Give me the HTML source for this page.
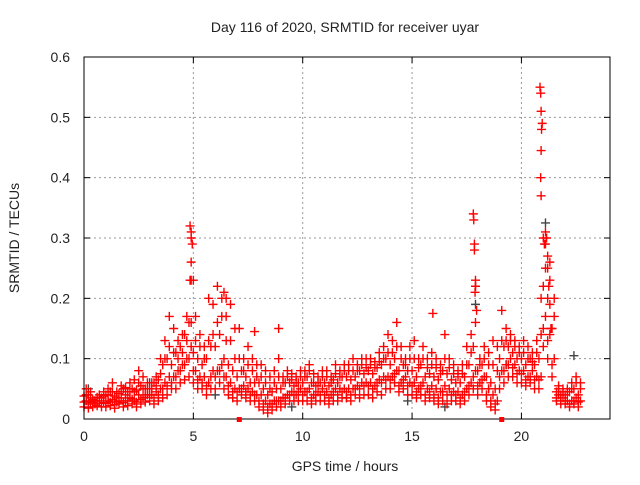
<!DOCTYPE html>
<html><head><meta charset="utf-8"><style>
body{margin:0;background:#fff}
svg text{font-family:"Liberation Sans",sans-serif;font-size:14px;fill:#222}
</style></head><body>
<svg id="chart" width="640" height="480" xmlns="http://www.w3.org/2000/svg">
<text x="345" y="32" text-anchor="middle">Day 116 of 2020, SRMTID for receiver uyar</text>
<text x="345" y="471" text-anchor="middle">GPS time / hours</text>
<text transform="translate(19,238) rotate(-90)" text-anchor="middle">SRMTID / TECUs</text>
<g id="grid"></g>
<g id="grey"></g>
<g id="red"></g>
<rect x="84" y="57" width="526" height="362" fill="none" stroke="#000" stroke-width="1"/>
<g id="axes"></g>
</svg>
<script>
const xTicks=[0,5,10,15,20];
const yTicks=[0,0.1,0.2,0.3,0.4,0.5,0.6];
const yTickLabels=["0","0.1","0.2","0.3","0.4","0.5","0.6"];
const times=[0,0.2,0.4,0.6,0.8,1,1.2,1.4,1.6,1.8,2,2.2,2.4,2.6,2.8,3,3.2,3.4,3.6,3.8,4,4.2,4.4,4.6,4.8,5,5.2,5.4,5.6,5.8,6,6.2,6.4,6.6,6.8,7,7.2,7.4,7.6,7.8,8,8.2,8.4,8.6,8.8,9,9.2,9.4,9.6,9.8,10,10.2,10.4,10.6,10.8,11,11.2,11.4,11.6,11.8,12,12.2,12.4,12.6,12.8,13,13.2,13.4,13.6,13.8,14,14.2,14.4,14.6,14.8,15,15.2,15.4,15.6,15.8,16,16.2,16.4,16.6,16.8,17,17.2,17.4,17.6,17.8,18,18.2,18.4,18.6,18.8,19,19.2,19.4,19.6,19.8,20,20.2,20.4,20.6,20.8,21,21.2,21.4,21.6,21.8,22,22.2,22.4,22.6];
const timesB=[0.1,0.3,0.5,0.7,0.9,1.1,1.3,1.5,1.7,1.9,2.1,2.3,2.5,2.7,2.9,3.1,3.3,3.5,3.7,3.9,4.1,4.3,4.5,4.7,4.9,5.1,5.3,5.5,5.7,5.9,6.1,6.3,6.5,6.7,6.9,7.1,7.3,7.5,7.7,7.9,8.1,8.3,8.5,8.7,8.9,9.1,9.3,9.5,9.7,9.9,10.1,10.3,10.5,10.7,10.9,11.1,11.3,11.5,11.7,11.9,12.1,12.3,12.5,12.7,12.9,13.1,13.3,13.5,13.7,13.9,14.1,14.3,14.5,14.7,14.9,15.1,15.3,15.5,15.7,15.9,16.1,16.3,16.5,16.7,16.9,17.1,17.3,17.5,17.7,17.9,18.1,18.3,18.5,18.7,18.9,19.1,19.3,19.5,19.7,19.9,20.1,20.3,20.5,20.7,20.9,21.1,21.3,21.5,21.7,21.9,22.1,22.3,22.5,22.7];
const seriesA=[.02,.018,.02,.022,.02, .02,.022,.018,.025,.02, .022,.025,.02,.025,.028, .03,.025,.03,.035,.04, .05,.05,.06,.065,.07, .06,.05,.05,.04,.05, .05,.06,.05,.04,.035, .03,.04,.035,.03,.03, .02,.015,.01,.015,.02, .02,.025,.03,.03,.03, .03,.03,.025,.03,.03, .03,.025,.03,.03,.035, .035,.03,.04,.035,.04, .04,.035,.045,.04,.05, .05,.06,.045,.05,.04, .04,.035,.04,.03,.035, .03,.025,.03,.025,.03, .03,.025,.03,.04,.05, .04,.05,.03,.02,.015, .05,.06,.07,.07,.06, .06,.055,.06,.05,.05, .12,.1,.07,.03,.025, .025,.02,.025,.02];
const seriesB=[.03,.028,.025,.03,.027, .03,.032,.028,.035,.03, .035,.03,.04,.035,.04, .04,.045,.05,.06,.07, .07,.08,.09,.1,.12, .08,.07,.07,.06,.08, .08,.09,.07,.06,.05, .05,.055,.05,.045,.04, .04,.03,.025,.03,.03, .035,.04,.045,.04,.05, .045,.05,.04,.045,.05, .045,.04,.05,.05,.05, .05,.05,.055,.06,.06, .06,.055,.065,.07,.07, .07,.08,.06,.07,.06, .06,.05,.06,.05,.055, .05,.045,.055,.05,.045, .045,.04,.05,.06,.08, .06,.07,.05,.04,.03, .08,.09,.1,.09,.08, .08,.07,.08,.07,.07, .17,.14,.1,.04,.035, .03,.03,.035,.03];
const seriesC=[.038,.04,.032,.036,.035, .04,.045,.038,.042,.05, .045,.05,.048,.055,.05, .05,.06,.065,.09,.1, .09,.11,.12,.14,.16, .11,.1,.09,.1,.12, .12,.14,.1,.09,.08, .07,.08,.07,.06,.06, .06,.05,.04,.045,.05, .05,.06,.06,.055,.06, .06,.07,.06,.055,.06, .06,.055,.065,.06,.07, .07,.065,.07,.08,.075, .08,.075,.085,.09,.1, .09,.1,.08,.09,.08, .08,.07,.09,.07,.075, .07,.065,.08,.075,.065, .06,.06,.07,.09,.12, .08,.09,.07,.06,.05, .1,.12,.12,.11,.1, .1,.09,.1,.09,.1, .22,.2,.15,.045,.04, .04,.045,.05,.04];
const seriesD=[.05,.045,.03,.04,.045, .05,.06,.045,.055,.052, .06,.065,.08,.07,.06, .06,.07,.1,.13,.17, .15,.13,.14,.17,.23, .17,.14,.12,.2,.19, .22,.2,.17,.19,.15, .15,.1,.12,.1,.09, .09,.08,.07,.08,.1, .07,.08,.075,.07,.08, .08,.09,.075,.07,.08, .08,.07,.09,.08,.09, .09,.1,.09,.1,.1, .1,.095,.11,.12,.14, .13,.16,.12,.1,.12, .13,.1,.12,.1,.11, .1,.09,.14,.1,.09, .08,.09,.12,.14,.22, .1,.12,.11,.13,.12, .18,.15,.14,.13,.12, .13,.12,.11,.13,.2, .29,.26,.2,.055,.05, .05,.06,.07,.06];
const seriesE=[.028,.025,.027,.03,.026, .026,.028,.024,.03,.027, .03,.033,.028,.032,.036, .04,.035,.04,.05,.055, .06,.07,.08,.09,.1, .08,.065,.06,.055,.07, .07,.08,.07,.055,.045, .045,.05,.045,.04,.04, .03,.025,.02,.025,.03, .03,.035,.04,.04,.045, .04,.045,.035,.04,.04, .04,.035,.045,.04,.045, .045,.04,.05,.05,.055, .055,.05,.06,.06,.065, .065,.075,.055,.065,.055, .055,.045,.055,.04,.045, .04,.035,.045,.04,.04, .04,.035,.045,.055,.07, .055,.065,.04,.03,.025, .07,.08,.09,.085,.075, .075,.065,.07,.065,.065, .15,.13,.09,.035,.03, .03,.025,.03,.028];
const seriesF=[.04,.035,.03,.035,.038, .04,.045,.035,.045,.04, .045,.045,.06,.05,.05, .05,.055,.075,.1,.12, .11,.1,.11,.13,.16, .13,.12,.1,.13,.14, .16,.17,.13,.13,.1, .1,.08,.09,.08,.07, .07,.06,.05,.06,.07, .06,.07,.065,.06,.07, .07,.08,.06,.06,.07, .07,.06,.075,.07,.08, .08,.08,.08,.09,.085, .09,.085,.095,.1,.11, .11,.12,.1,.09,.1, .1,.085,.1,.085,.09, .085,.075,.1,.085,.075, .07,.075,.09,.11,.16, .09,.1,.09,.09,.08, .13,.13,.13,.12,.11, .11,.1,.095,.11,.14, .25,.23,.17,.05,.045, .045,.05,.06,.05];
const spikeTimes=[4.85,4.9,4.9,4.95,4.9,4.85,5.0,6.4,6.5,17.8,17.82,17.85,17.85,17.9,17.9,17.88,17.95,20.85,20.88,20.9,20.95,20.92,20.9,20.88,20.9,21.0,21.05,21.1,21.15,21.2,21.2,21.25,21.3,21.35,8.9,7.8,15.95];
const spikeValues=[.32,.31,.3,.29,.26,.23,.23,.21,.2,.34,.33,.29,.28,.23,.22,.21,.18,.55,.54,.51,.49,.48,.445,.4,.37,.3,.29,.31,.3,.27,.25,.22,.19,.15,.15,.145,.175];
const greyTimes=[21.1,22.4,17.9,3.0,14.8,16.5,18.5,9.5,12.0,19.3,0.2,6.0,7.4];
const greyValues=[.325,.105,.19,.06,.03,.02,.05,.02,.035,.09,.05,.04,.045];
const markerTimes=[7.1,19.1];

const X0=84,X1=610,Y0=419,Y1=57,XMAX=24.05;
const sx=t=>X0+t/XMAX*(X1-X0);
const sy=v=>Y0-v/0.6*(Y0-Y1);
const NS="http://www.w3.org/2000/svg";
function mk(tag,attrs,parent){const e=document.createElementNS(NS,tag);for(const k in attrs)e.setAttribute(k,attrs[k]);parent.appendChild(e);return e;}
const grid=document.getElementById('grid'),axes=document.getElementById('axes');
xTicks.forEach((t,i)=>{
  const x=sx(t);
  if(t>0){const g=mk('line',{x1:x,x2:x,y1:Y1,y2:Y0,stroke:'#999','stroke-dasharray':'2,3'},grid);
  
  }
  const a=mk('line',{x1:x,x2:x,y1:Y0,y2:Y0-6,stroke:'#000'},axes);
  
  
  const b=mk('line',{x1:x,x2:x,y1:Y1,y2:Y1+6,stroke:'#000'},axes);
  
  
  const l=mk('text',{x:x,y:441,'text-anchor':'middle'},axes);l.textContent=String(t);
  
  
});
yTicks.forEach((v,i)=>{
  const y=sy(v);
  if(v>0&&v<0.6){const g=mk('line',{x1:X0,x2:X1,y1:y,y2:y,stroke:'#999','stroke-dasharray':'2,3'},grid);
  
  }
  const a=mk('line',{x1:X0,x2:X0+6,y1:y,y2:y,stroke:'#000'},axes);
  
  
  const b=mk('line',{x1:X1,x2:X1-6,y1:y,y2:y,stroke:'#000'},axes);
  
  
  const l=mk('text',{x:70,y:y+5,'text-anchor':'end'},axes);l.textContent=yTickLabels[i];
  
  
});
function plus(g,t,v,col,name){
  const x=sx(t),y=sy(v);
  const p=mk('path',{d:`M${x-4.5},${y}h9M${x},${y-4.5}v9`,stroke:col,'stroke-width':1.4,fill:'none'},g);
  
  
}
const grey=document.getElementById('grey'),red=document.getElementById('red');
greyTimes.forEach((t,i)=>plus(grey,t,greyValues[i],'#444','grey-point'));
times.forEach((t,i)=>{plus(red,t,seriesA[i],'#f00','red-point');plus(red,t,seriesC[i],'#f00','red-point');plus(red,t,seriesE[i],'#f00','red-point');});
timesB.forEach((t,i)=>{plus(red,t,seriesB[i],'#f00','red-point');plus(red,t,seriesD[i],'#f00','red-point');plus(red,t,seriesF[i],'#f00','red-point');});
spikeTimes.forEach((t,i)=>plus(red,t,spikeValues[i],'#f00','red-point'));
markerTimes.forEach(t=>{
  const r=mk('rect',{x:sx(t)-2.5,y:Y0-2,width:5,height:5,fill:'#f00'},axes);
  
  
});
</script>
</body></html>
